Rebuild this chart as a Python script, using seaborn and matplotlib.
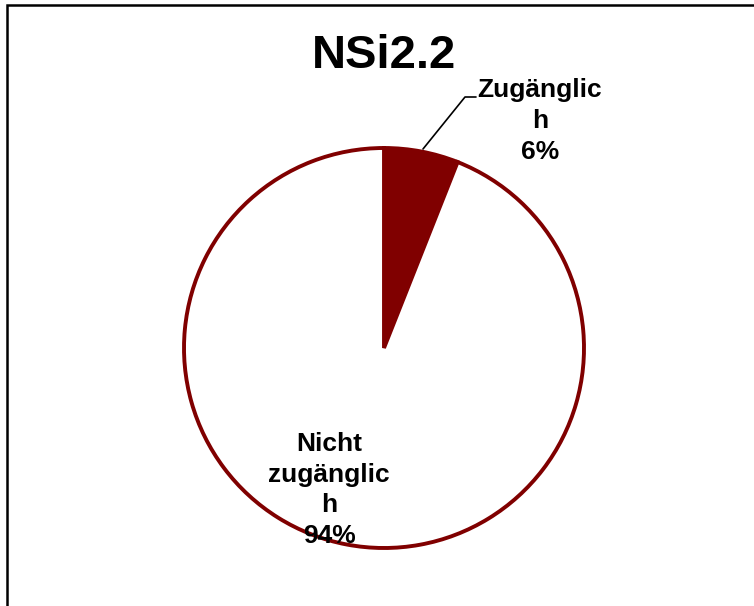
import matplotlib
matplotlib.use("Agg")
import matplotlib.pyplot as plt
import seaborn as sns
from matplotlib.patches import Rectangle

sns.set_theme(style="white")
plt.rcParams['font.family'] = ['Liberation Sans', 'DejaVu Sans']

title = "NSi2.2"
categories = ["Zugänglic\nh", "Nicht\nzugänglic\nh"]
values = [6, 94]
colors = ["#800000", "#ffffff"]

W, H = 754, 606
fig = plt.figure(figsize=(W / 100, H / 100), dpi=100)
fig.patch.set_facecolor("white")
ax = fig.add_axes([0, 0, 1, 1])

cx, cy, r = 384, H - 348, 200
wedges, _ = ax.pie(values, startangle=90, counterclock=False, colors=colors,
                   center=(cx, cy), radius=r, frame=True,
                   wedgeprops=dict(edgecolor="#800000", linewidth=2.8))
ax.set_xlim(0, W)
ax.set_ylim(0, H)
ax.set_aspect("equal")
ax.axis("off")

total = sum(values)
lab_pos = [(540, H - 121), (329, H - 490)]
for lab, v, (x, y) in zip(categories, values, lab_pos):
    ax.text(x, y, f"{lab}\n{round(100 * v / total)}%", ha="center", va="center",
            fontsize=19, fontweight="bold", color="black", linespacing=1.36)

# leader line for small slice
ax.plot([423, 465, 476], [H - 149, H - 97, H - 97], color="black", lw=1.2)

ax.text(cx, H - 56, title, ha="center", va="center", fontsize=34,
        fontweight="bold", color="black")

# outer border
fig.add_artist(Rectangle((7 / W, -0.1), 1.2, (H - 5) / H + 0.1,
                         transform=fig.transFigure, fill=False,
                         edgecolor="black", lw=1.8))

fig.savefig("out.png", dpi=100, facecolor="white")
